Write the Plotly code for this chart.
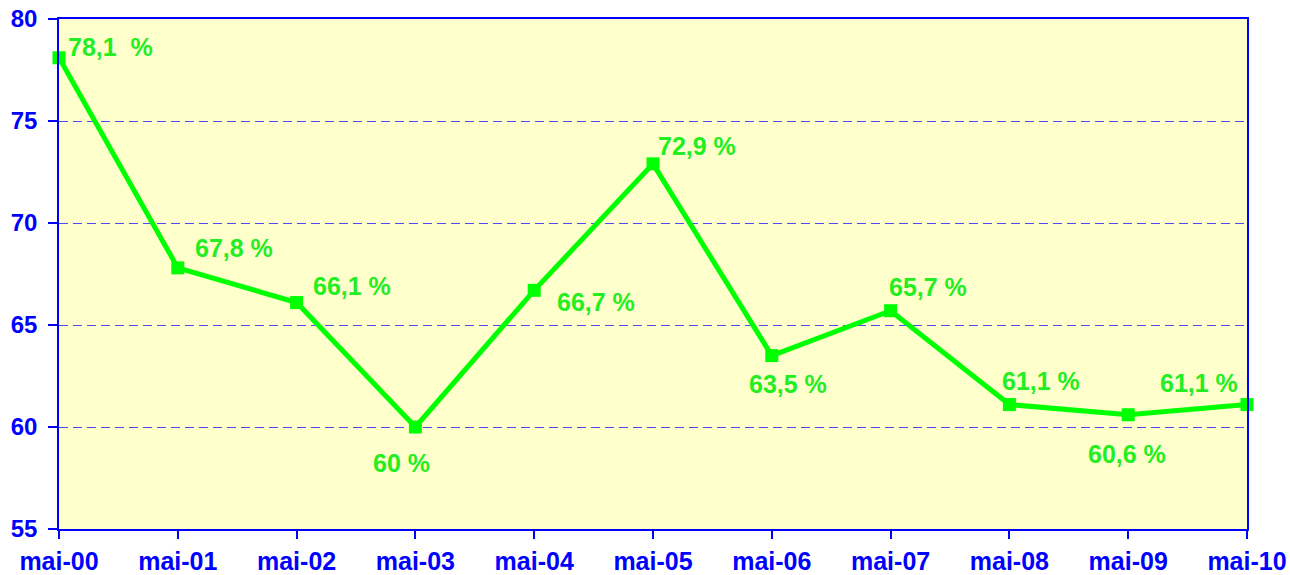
import plotly.graph_objects as go

categories = ["mai-00", "mai-01", "mai-02", "mai-03", "mai-04", "mai-05",
              "mai-06", "mai-07", "mai-08", "mai-09", "mai-10"]
values = [78.1, 67.8, 66.1, 60.0, 66.7, 72.9, 63.5, 65.7, 61.1, 60.6, 61.1]
labels = ["78,1  %", "67,8 %", "66,1 %", "60 %", "66,7 %", "72,9 %",
          "63,5 %", "65,7 %", "61,1 %", "60,6 %", "61,1 %"]
y_ticks = [55, 60, 65, 70, 75, 80]

# label placement (anchor, xshift, yshift) in pixels
label_pos = [("left", 7, 11), ("left", 15, 20), ("left", 14, 17), ("center", -14, -36),
             ("left", 21, -12), ("left", 3, 18), ("center", 16, -28), ("center", 37, 24),
             ("center", 32, 24), ("center", -1, -39), ("center", -48, 22)]

x = list(range(len(categories)))
BLUE = "#0000ff"
GREEN_LINE = "#00ff00"
GREEN_TXT = "#22ee22"
FONT = "Liberation Sans, Arial"

fig = go.Figure()
fig.add_trace(go.Scatter(
    x=x, y=values, mode="lines+markers",
    line=dict(color=GREEN_LINE, width=5),
    marker=dict(symbol="square", size=13, color=GREEN_LINE),
    showlegend=False, hoverinfo="skip", cliponaxis=False,
))

for xi, v, t, (anc, dx, dy) in zip(x, values, labels, label_pos):
    fig.add_annotation(x=xi, y=v, text=t, showarrow=False,
                       xanchor=anc, yanchor="middle", xshift=dx, yshift=dy,
                       font=dict(family=FONT, size=25,
                                 color=GREEN_TXT, weight="bold"))

fig.update_layout(
    width=1290, height=575,
    margin=dict(l=59, r=43, t=19, b=46, autoexpand=False),
    paper_bgcolor="white", plot_bgcolor="#ffffcc",
    font=dict(family=FONT, size=25, color=BLUE, weight="bold"),
)
fig.update_xaxes(
    range=[0, 10], tickmode="array", tickvals=x, ticktext=categories,
    showgrid=False, zeroline=False, automargin=False,
    showline=True, linecolor=BLUE, linewidth=1.5, mirror=True,
    ticks="outside", ticklen=8, tickcolor=BLUE, tickwidth=1.5,
    ticklabelstandoff=1,
    tickfont=dict(family=FONT, size=25, color=BLUE, weight="bold"),
)
fig.update_yaxes(
    range=[55, 80], tickmode="array", tickvals=y_ticks,
    showgrid=True, gridcolor="#4a4aff", griddash="9px,5px", gridwidth=1,
    zeroline=False, automargin=False,
    showline=True, linecolor=BLUE, linewidth=1.5, mirror=True,
    ticks="outside", ticklen=9, tickcolor=BLUE, tickwidth=1.5,
    ticklabelstandoff=6,
    tickfont=dict(family=FONT, size=24, color=BLUE, weight="bold"),
)

fig.write_html("out.html", config={"displayModeBar": False},
               post_script="document.body.style.margin='0';document.body.style.overflow='hidden';")
